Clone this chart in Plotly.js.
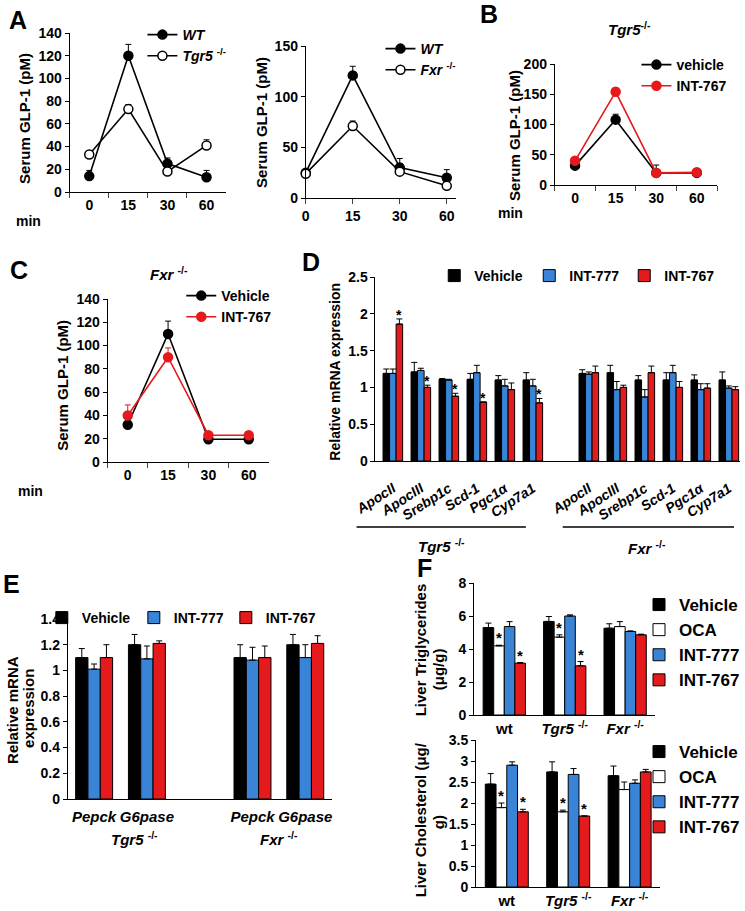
<!DOCTYPE html>
<html><head><meta charset="utf-8">
<script src="https://cdn.plot.ly/plotly-3.0.1.min.js"></script>
<style>html,body{margin:0;padding:0;background:#fff}#chart{width:745px;height:911px}</style>
</head><body><div id="chart"></div>
<script>
// ---------------- DATA ----------------
const minutes = ['0', '15', '30', '60'];
// Panel A (left): WT vs Tgr5-/-
const aWT = [14, 120, 25, 13];
const aWTerr = [5, 10, 5, 6];
const aTgr5 = [33, 73, 18, 41];
const aTgr5err = [0, 4, 0, 5];
// Panel A (right): WT vs Fxr-/-
const a2WT = [25, 121, 30, 20];
const a2WTerr = [0, 9, 9, 8];
const a2Fxr = [24, 71, 26, 12];
const a2Fxrerr = [0, 5, 8, 0];
// Panel B: Tgr5-/- vehicle vs INT-767
const bVeh = [32, 108, 20, 20];
const bVehErr = [0, 9, 13, 0];
const b767 = [40, 154, 20, 21];
const b767Err = [0, 6, 0, 0];
// Panel C: Fxr-/- vehicle vs INT-767
const cVeh = [32, 110, 19.5, 19.5];
const cVehErr = [0, 11, 0, 0];
const c767 = [40, 90, 23, 23];
const c767Err = [9, 8, 0, 0];

// Panel D: relative mRNA expression
const genesD = ['ApocII', 'ApocIII', 'Srebp1c', 'Scd-1', 'Pgc1α', 'Cyp7a1'];
const dTgr5Veh = [1.19, 1.21, 1.11, 1.11, 1.10, 1.10];
const dTgr5VehErr = [0.06, 0.13, 0.01, 0.08, 0.06, 0.10];
const dTgr5777 = [1.19, 1.23, 1.10, 1.20, 1.02, 1.02];
const dTgr5777Err = [0.06, 0.03, 0.01, 0.10, 0.09, 0.09];
const dTgr5767 = [1.86, 1.00, 0.88, 0.80, 0.97, 0.79];
const dTgr5767Err = [0.07, 0.03, 0.04, 0.0, 0.09, 0.06];
const dFxrVeh = [1.19, 1.20, 1.10, 1.10, 1.10, 1.10];
const dFxrVehErr = [0.05, 0.10, 0.06, 0.10, 0.07, 0.11];
const dFxr777 = [1.18, 0.97, 0.87, 1.20, 0.97, 0.99];
const dFxr777Err = [0.03, 0.11, 0.10, 0.10, 0.08, 0.03];
const dFxr767 = [1.20, 1.00, 1.20, 1.00, 0.99, 0.97];
const dFxr767Err = [0.09, 0.03, 0.09, 0.08, 0.06, 0.04];

// Panel E: gluconeogenic genes
const genesE = ['Pepck', 'G6pase'];
const eTgr5Veh = [1.10, 1.20];
const eTgr5VehErr = [0.07, 0.08];
const eTgr5777 = [1.01, 1.09];
const eTgr5777Err = [0.04, 0.10];
const eTgr5767 = [1.10, 1.21];
const eTgr5767Err = [0.10, 0.02];
const eFxrVeh = [1.10, 1.20];
const eFxrVehErr = [0.10, 0.08];
const eFxr777 = [1.08, 1.10];
const eFxr777Err = [0.10, 0.10];
const eFxr767 = [1.10, 1.21];
const eFxr767Err = [0.09, 0.06];

// Panel F: liver lipids
const genotypesF = ['wt', 'Tgr5', 'Fxr'];
const genotypeLabelsF = ['wt', '<i>Tgr5</i> <sup>-/-</sup>', '<i>Fxr</i> <sup>-/-</sup>'];
const fTGVeh = [5.30, 5.67, 5.26];
const fTGVehErr = [0.27, 0.30, 0.27];
const fTGOca = [4.19, 4.72, 5.36];
const fTGOcaErr = [0.04, 0.14, 0.30];
const fTG777 = [5.36, 6.00, 5.06];
const fTG777Err = [0.30, 0.07, 0.04];
const fTG767 = [3.14, 2.98, 4.86];
const fTG767Err = [0.04, 0.26, 0.04];
const fCHVeh = [2.45, 2.74, 2.65];
const fCHVehErr = [0.25, 0.24, 0.23];
const fCHOca = [1.89, 1.79, 2.32];
const fCHOcaErr = [0.11, 0.04, 0.18];
const fCH777 = [2.90, 2.68, 2.47];
const fCH777Err = [0.08, 0.14, 0.08];
const fCH767 = [1.79, 1.69, 2.74];
const fCH767Err = [0.06, 0.0, 0.06];

// ---------------- HELPERS ----------------
const FONT = 'Liberation Sans, Arial, Helvetica, sans-serif';
const W = 745, H = 911;
const px = v => v / W;
const py = v => 1 - v / H;
const BLUE = '#3a84d8', RED = '#e41a1c', BLK = '#000000';
const zeros = n => new Array(n).fill(0);

function lineTrace(xa, ya, y, err, name, lineColor, fill, legend, errColor) {
  return {
    type: 'scatter', mode: 'lines+markers', x: minutes, y: y, xaxis: xa, yaxis: ya,
    name: name, legend: legend, legendgroup: legend + name, cliponaxis: false,
    line: {color: lineColor, width: 1.6},
    marker: {size: 9, color: fill, line: {color: lineColor, width: 1.5}},
    error_y: {type: 'data', symmetric: false, array: err, arrayminus: zeros(err.length),
      color: errColor || lineColor, thickness: 1, width: 3}
  };
}
function barTrace(xa, ya, x, y, err, name, color, legend) {
  return {
    type: 'bar', x: x, y: y, xaxis: xa, yaxis: ya, name: name, legend: legend,
    legendgroup: legend + name,
    marker: {color: color, line: {color: BLK, width: 1}},
    error_y: {type: 'data', symmetric: false, array: err, arrayminus: zeros(err.length),
      color: BLK, thickness: 1, width: 3}
  };
}

// category keys for grouped panels
const dKeysT = genesD.map(g => 'Tgr5 ' + g);
const dKeysF = genesD.map(g => 'Fxr ' + g);
const dCats = dKeysT.concat(['gap'], dKeysF);
const dTicks = genesD.concat([''], genesD);
const eKeysT = genesE.map(g => 'Tgr5 ' + g);
const eKeysF = genesE.map(g => 'Fxr ' + g);
const eCats = eKeysT.concat(['gap'], eKeysF);
const eTicks = genesE.concat([''], genesE);

const traces = [
  // A left
  lineTrace('x', 'y', aWT, aWTerr, '<i>WT</i>', BLK, BLK, 'legend'),
  lineTrace('x', 'y', aTgr5, aTgr5err, '<i>Tgr5</i> <sup>-/-</sup>', BLK, '#fff', 'legend'),
  // A right
  lineTrace('x2', 'y2', a2WT, a2WTerr, '<i>WT</i>', BLK, BLK, 'legend2'),
  lineTrace('x2', 'y2', a2Fxr, a2Fxrerr, '<i>Fxr</i> <sup>-/-</sup>', BLK, '#fff', 'legend2'),
  // B
  lineTrace('x3', 'y3', bVeh, bVehErr, 'vehicle', BLK, BLK, 'legend3'),
  lineTrace('x3', 'y3', b767, b767Err, 'INT-767', RED, RED, 'legend3'),
  // C
  lineTrace('x4', 'y4', cVeh, cVehErr, 'Vehicle', BLK, BLK, 'legend4'),
  lineTrace('x4', 'y4', c767, c767Err, 'INT-767', RED, RED, 'legend4'),
];
// D
traces.push(barTrace('x5', 'y5', dKeysT.concat(dKeysF), dTgr5Veh.concat(dFxrVeh), dTgr5VehErr.concat(dFxrVehErr), 'Vehicle', BLK, 'legend5'));
traces.push(barTrace('x5', 'y5', dKeysT.concat(dKeysF), dTgr5777.concat(dFxr777), dTgr5777Err.concat(dFxr777Err), 'INT-777', BLUE, 'legend5'));
traces.push(barTrace('x5', 'y5', dKeysT.concat(dKeysF), dTgr5767.concat(dFxr767), dTgr5767Err.concat(dFxr767Err), 'INT-767', RED, 'legend5'));
// E
traces.push(barTrace('x6', 'y6', eKeysT.concat(eKeysF), eTgr5Veh.concat(eFxrVeh), eTgr5VehErr.concat(eFxrVehErr), 'Vehicle', BLK, 'legend6'));
traces.push(barTrace('x6', 'y6', eKeysT.concat(eKeysF), eTgr5777.concat(eFxr777), eTgr5777Err.concat(eFxr777Err), 'INT-777', BLUE, 'legend6'));
traces.push(barTrace('x6', 'y6', eKeysT.concat(eKeysF), eTgr5767.concat(eFxr767), eTgr5767Err.concat(eFxr767Err), 'INT-767', RED, 'legend6'));
// F top
traces.push(barTrace('x7', 'y7', genotypesF, fTGVeh, fTGVehErr, 'Vehicle', BLK, 'legend7'));
traces.push(barTrace('x7', 'y7', genotypesF, fTGOca, fTGOcaErr, 'OCA', '#ffffff', 'legend7'));
traces.push(barTrace('x7', 'y7', genotypesF, fTG777, fTG777Err, 'INT-777', BLUE, 'legend7'));
traces.push(barTrace('x7', 'y7', genotypesF, fTG767, fTG767Err, 'INT-767', RED, 'legend7'));
// F bottom
traces.push(barTrace('x8', 'y8', genotypesF, fCHVeh, fCHVehErr, 'Vehicle', BLK, 'legend8'));
traces.push(barTrace('x8', 'y8', genotypesF, fCHOca, fCHOcaErr, 'OCA', '#ffffff', 'legend8'));
traces.push(barTrace('x8', 'y8', genotypesF, fCH777, fCH777Err, 'INT-777', BLUE, 'legend8'));
traces.push(barTrace('x8', 'y8', genotypesF, fCH767, fCH767Err, 'INT-767', RED, 'legend8'));

// ---------------- AXES ----------------
const yBase = {showline: true, linecolor: BLK, linewidth: 1, ticks: 'outside', ticklen: 4,
  tickcolor: BLK, tickwidth: 1, showgrid: false, zeroline: false, tickfont: {size: 14}};
const xBase = {type: 'category', showline: true, linecolor: BLK, linewidth: 1, showgrid: false,
  zeroline: false, tickfont: {size: 14}};

const layout = {
  width: W, height: H, margin: {l: 0, r: 0, t: 0, b: 0},
  paper_bgcolor: '#fff', plot_bgcolor: 'rgba(0,0,0,0)',
  font: {family: FONT, size: 14, color: BLK, weight: 'bold'},
  barmode: 'group', bargap: 0.3, bargroupgap: 0, showlegend: true,
  xaxis: Object.assign({}, xBase, {domain: [px(70), px(227)], anchor: 'y', range: [-0.5, 3.5],
    categoryorder: 'array', categoryarray: minutes, ticks: 'outside', ticklen: 5, tickson: 'boundaries'}),
  yaxis: Object.assign({}, yBase, {domain: [py(192), py(33)], anchor: 'x', range: [0, 140], dtick: 20}),
  xaxis2: Object.assign({}, xBase, {domain: [px(307), px(458)], anchor: 'y2', range: [0, 3.2],
    categoryorder: 'array', categoryarray: minutes, ticks: 'outside', ticklen: 5}),
  yaxis2: Object.assign({}, yBase, {domain: [py(198), py(46)], anchor: 'x2', range: [0, 150], dtick: 50}),
  xaxis3: Object.assign({}, xBase, {domain: [px(557), px(720)], anchor: 'y3', range: [-0.5, 3.5],
    categoryorder: 'array', categoryarray: minutes, ticks: 'outside', ticklen: 5, tickson: 'boundaries'}),
  yaxis3: Object.assign({}, yBase, {domain: [py(185), py(64)], anchor: 'x3', range: [0, 200], dtick: 50}),
  xaxis4: Object.assign({}, xBase, {domain: [px(108), px(270)], anchor: 'y4', range: [-0.5, 3.5],
    categoryorder: 'array', categoryarray: minutes, ticks: 'outside', ticklen: 5, tickson: 'boundaries'}),
  yaxis4: Object.assign({}, yBase, {domain: [py(462), py(299)], anchor: 'x4', range: [0, 140], dtick: 20}),
  xaxis5: Object.assign({}, xBase, {domain: [px(377), px(743)], anchor: 'y5', range: [-0.62, 12.4],
    categoryorder: 'array', categoryarray: dCats, tickmode: 'array', tickvals: dCats, ticktext: dTicks,
    ticks: '', tickangle: -33, ticklabelstandoff: 13, tickfont: {size: 14, style: 'italic'}}),
  yaxis5: Object.assign({}, yBase, {domain: [py(461), py(277)], anchor: 'x5', range: [0, 2.5], dtick: 0.5}),
  xaxis6: Object.assign({}, xBase, {domain: [px(68), px(333)], anchor: 'y6', range: [-0.5, 4.5],
    categoryorder: 'array', categoryarray: eCats, tickmode: 'array', tickvals: eCats, ticktext: eTicks,
    ticks: '', ticklabelstandoff: 4, tickfont: {size: 15, style: 'italic'}}),
  yaxis6: Object.assign({}, yBase, {domain: [py(799), py(619)], anchor: 'x6', range: [0, 1.4], dtick: 0.2}),
  xaxis7: Object.assign({}, xBase, {domain: [px(476), px(658)], anchor: 'y7', range: [-0.5, 2.5],
    categoryorder: 'array', categoryarray: genotypesF, tickmode: 'array', tickvals: genotypesF,
    ticktext: genotypeLabelsF, ticks: '', tickfont: {size: 15}}),
  yaxis7: Object.assign({}, yBase, {domain: [py(715), py(583)], anchor: 'x7', range: [0, 8], dtick: 2}),
  xaxis8: Object.assign({}, xBase, {domain: [px(478), px(663)], anchor: 'y8', range: [-0.5, 2.5],
    categoryorder: 'array', categoryarray: genotypesF, tickmode: 'array', tickvals: genotypesF,
    ticktext: genotypeLabelsF, ticks: '', tickfont: {size: 15}}),
  yaxis8: Object.assign({}, yBase, {domain: [py(887), py(740)], anchor: 'x8', range: [0, 3.5], dtick: 0.5}),
};

// ---------------- LEGENDS ----------------
function leg(x, yTop, size, extra) {
  return Object.assign({x: px(x), y: py(yTop), xanchor: 'left', yanchor: 'top',
    bgcolor: 'rgba(0,0,0,0)', borderwidth: 0, font: {size: size}, itemwidth: 30,
    tracegroupgap: 0, traceorder: 'normal', itemclick: false, itemdoubleclick: false}, extra || {});
}
layout.legend = leg(143, 19, 14);
layout.legend2 = leg(382, 33, 14, {tracegroupgap: -3});
layout.legend3 = leg(639, 49, 14, {tracegroupgap: 3});
layout.legend4 = leg(182, 280, 14, {tracegroupgap: -2});
layout.legend5 = leg(436, 260, 14, {orientation: 'h', entrywidth: 50});
layout.legend6 = leg(42, 602, 14, {orientation: 'h', entrywidth: 47});
layout.legend7 = leg(642, 587, 17, {tracegroupgap: 3});
layout.legend8 = leg(642, 734, 17, {tracegroupgap: 2});

// ---------------- ANNOTATIONS ----------------
const ann = [];
function txt(text, x, y, size, extra) {
  ann.push(Object.assign({text: text, x: px(x), y: py(y), xref: 'paper', yref: 'paper',
    showarrow: false, xanchor: 'center', yanchor: 'middle', font: {size: size}}, extra || {}));
}
// panel letters
txt('A', 18, 20, 25); txt('B', 491, 14, 25); txt('C', 19, 270, 25);
txt('D', 312, 262, 25); txt('E', 12, 584, 25); txt('F', 426, 568, 25);
// panel titles
txt('<i>Tgr5</i><sup>-/-</sup>', 632, 28, 15);
txt('<i>Fxr</i> <sup>-/-</sup>', 170, 274, 15);
// y axis titles
const rot = {textangle: -90};
txt('Serum GLP-1 (pM)', 24, 118, 15, rot);
txt('Serum GLP-1 (pM)', 263, 122, 15, rot);
txt('Serum GLP-1 (pM)', 516, 135, 15, rot);
txt('Serum GLP-1 (pM)', 62, 385, 15, rot);
txt('Relative mRNA expression', 336, 372, 14, rot);
txt('Relative mRNA', 12, 710, 15, rot);
txt('expression', 28, 708, 15, rot);
txt('Liver Triglycerides', 422, 650, 15, rot);
txt('(μg/g)', 440, 669, 15, rot);
txt('Liver Cholesterol (μg/', 422, 820, 15, rot);
txt('g)', 440, 822, 15, rot);
// "min" labels
txt('min', 29, 221, 14); txt('min', 513, 213, 14); txt('min', 31, 491, 14);
// group labels
txt('<i>Tgr5</i> <sup>-/-</sup>', 443, 545, 15);
txt('<i>Fxr</i> <sup>-/-</sup>', 650, 547, 15);
txt('<i>Tgr5</i> <sup>-/-</sup>', 135, 838, 15);
txt('<i>Fxr</i> <sup>-/-</sup>', 280, 838, 15);

// significance stars (anchored on data values + error)
function star(xa, ya, x, y, size, xshift, yshift) {
  ann.push({text: '*', x: x, y: y, xref: xa, yref: ya, showarrow: false, xanchor: 'center',
    yanchor: 'bottom', xshift: xshift, yshift: yshift, font: {size: size}});
}
star('x', 'y', '15', aTgr5[1] + aTgr5err[1], 16, 0, -4);
star('x2', 'y2', '15', a2Fxr[1] + a2Fxrerr[1], 16, 0, 2);
star('x3', 'y3', '15', b767[1] + b767Err[1], 16, 0, 1);
const dBar = (366 / 13.02) * 0.7 / 3;
[0, 1, 2, 3, 5].forEach(i => star('x5', 'y5', dKeysT[i], dTgr5767[i] + dTgr5767Err[i], 14, dBar, -6));
const fBar7 = (182 / 3) * 0.7 / 4, fBar8 = (185 / 3) * 0.7 / 4;
[0, 1].forEach(i => {
  star('x7', 'y7', genotypesF[i], fTGOca[i] + fTGOcaErr[i], 15, -0.5 * fBar7, -3);
  star('x7', 'y7', genotypesF[i], fTG767[i] + fTG767Err[i], 15, 1.5 * fBar7, -3);
  star('x8', 'y8', genotypesF[i], fCHOca[i] + fCHOcaErr[i], 15, -0.5 * fBar8, -3);
  star('x8', 'y8', genotypesF[i], fCH767[i] + fCH767Err[i], 15, 1.5 * fBar8, -3);
});
layout.annotations = ann;

// group underline shapes in D
layout.shapes = [
  {type: 'line', xref: 'paper', yref: 'paper', x0: px(358), x1: px(528), y0: py(527), y1: py(527), line: {color: BLK, width: 1.3}},
  {type: 'line', xref: 'paper', yref: 'paper', x0: px(565), x1: px(737), y0: py(527), y1: py(527), line: {color: BLK, width: 1.3}}
];

Plotly.newPlot('chart', traces, layout, {staticPlot: true, displayModeBar: false});
</script></body></html>
